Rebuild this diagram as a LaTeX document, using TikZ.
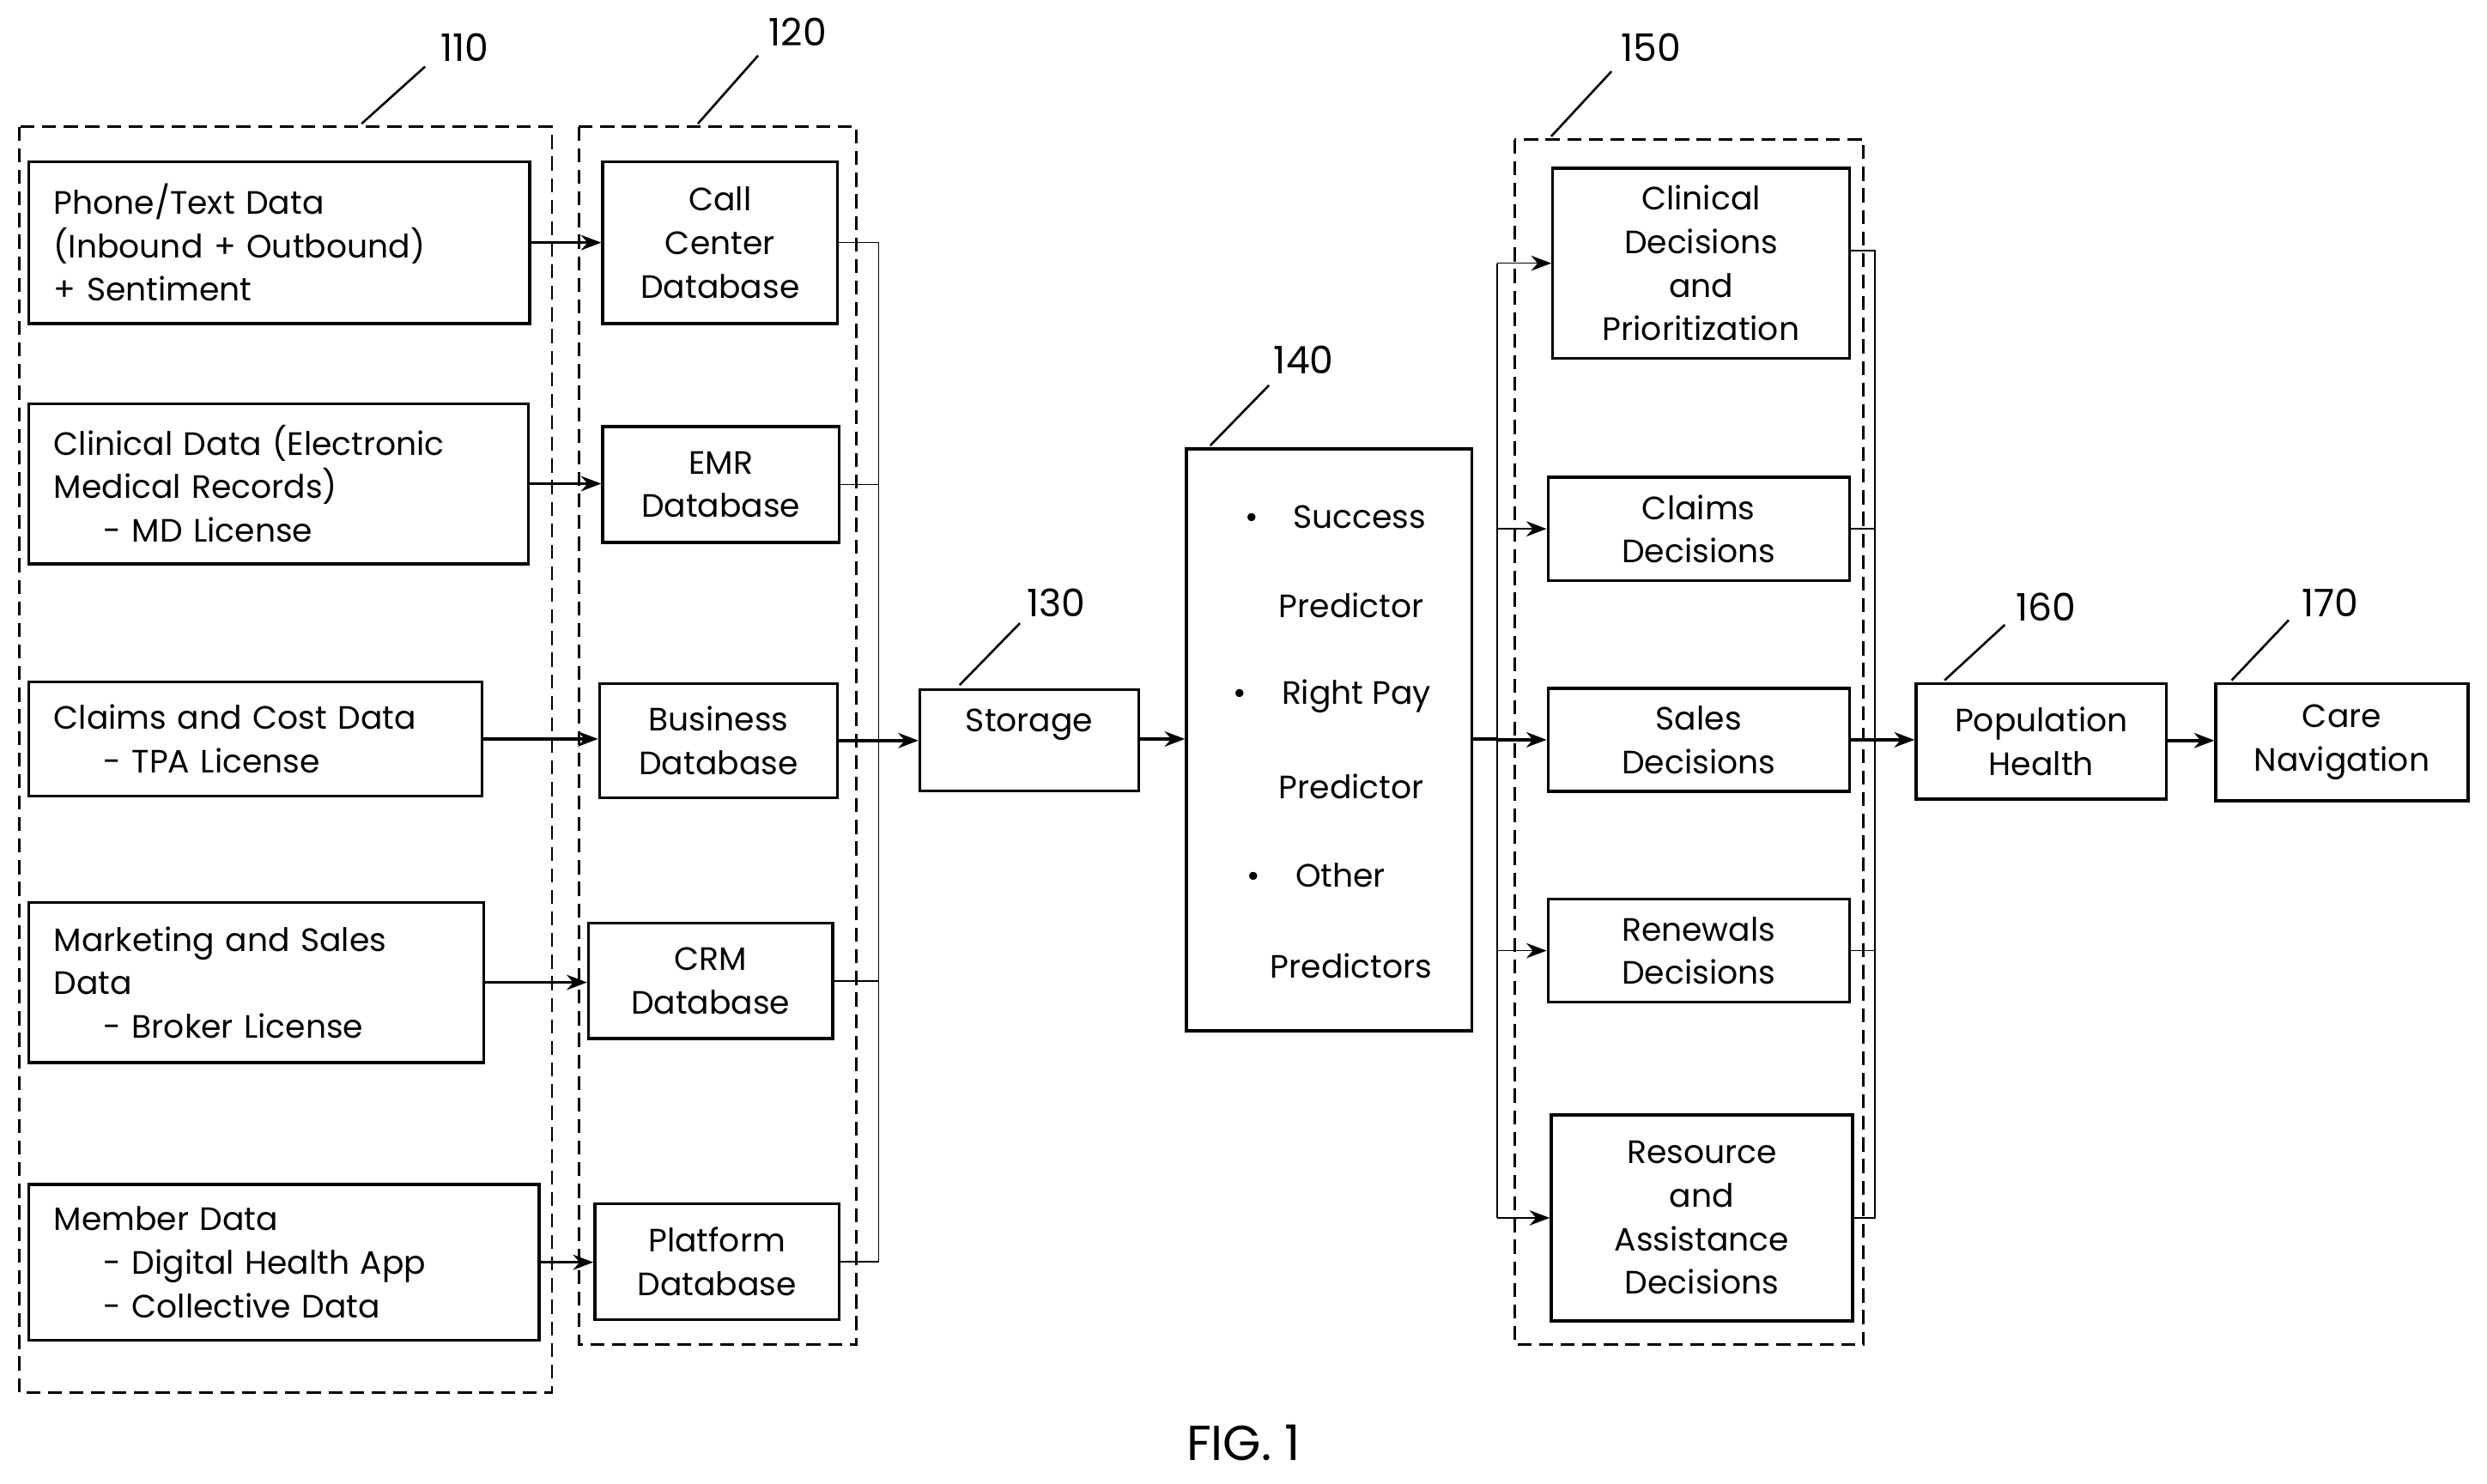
\documentclass[tikz,border=0pt]{standalone}
\usepackage{fontspec}
\setmainfont{Poppins}
\usetikzlibrary{arrows.meta}
\newcommand\U{0.025cm}
\begin{document}
\begin{tikzpicture}[x=0.025cm,y=-0.025cm,
 box/.style={draw,line width=1.3pt,inner sep=0pt,font=\fontsize{14.5}{19.5}\selectfont,align=center},
 lbox/.style={box,align=left},
 grp/.style={draw,line width=1.1pt,dash pattern=on 2.2mm off 1.2mm},
 num/.style={font=\fontsize{17}{20}\selectfont},
 lead/.style={line width=1pt},
 arr/.style={line width=1.3pt,-{Stealth[length=3.2mm,width=2.4mm]}},
 bus/.style={line width=0.6pt}]
\useasboundingbox (0,0) rectangle (1568,935.3);
% groups
\draw[grp] (12,80) rectangle (348,878);
\draw[grp] (365,80) rectangle (540,848);
\draw[grp] (955,88) rectangle (1175,848);
% labels
\node[num] (n110) at (293,30) {110}; \draw[lead] (228,78) -- (268,42);
\node[num] (n120) at (503,20) {120}; \draw[lead] (440,78) -- (478,35);
\node[num] (n130) at (666,380) {130}; \draw[lead] (605,432) -- (643,393);
\node[num] (n140) at (822,227) {140}; \draw[lead] (763,281) -- (800,243);
\node[num] (n150) at (1041,30) {150}; \draw[lead] (978,86) -- (1016,45);
\node[num] (n160) at (1290,383) {160}; \draw[lead] (1226,429) -- (1264,394);
\node[num] (n170) at (1469,380) {170}; \draw[lead] (1407,429) -- (1443,391);
% sources
\node[lbox,minimum width=316*\U,minimum height=102*\U,text width=284*\U] (A1) at (176,153) {Phone/Text Data\\(Inbound + Outbound)\\+ Sentiment};
\node[lbox,minimum width=315*\U,minimum height=101*\U,text width=283*\U] (A2) at (175.5,305) {Clinical Data (Electronic\\Medical Records)\\\hspace*{0.78cm}- MD License};
\node[lbox,minimum width=286*\U,minimum height=72*\U,text width=254*\U] (A3) at (161,466) {Claims and Cost Data\\\hspace*{0.78cm}- TPA License};
\node[lbox,minimum width=287*\U,minimum height=101*\U,text width=255*\U] (A4) at (161.5,619.5) {Marketing and Sales\\Data\\\hspace*{0.78cm}- Broker License};
\node[lbox,minimum width=322*\U,minimum height=98*\U,text width=290*\U] (A5) at (179,796) {Member Data\\\hspace*{0.78cm}- Digital Health App\\\hspace*{0.78cm}- Collective Data};
% databases
\node[box,minimum width=148*\U,minimum height=102*\U] (B1) at (454,153) {Call\\Center\\Database};
\node[box,minimum width=149*\U,minimum height=73*\U] (B2) at (454.5,305.5) {EMR\\Database};
\node[box,minimum width=150*\U,minimum height=72*\U] (B3) at (453,467) {Business\\Database};
\node[box,minimum width=154*\U,minimum height=73*\U] (B4) at (448,618.5) {CRM\\Database};
\node[box,minimum width=154*\U,minimum height=73*\U] (B5) at (452,795.5) {Platform\\Database};
\foreach \i in {1,...,5}{\draw[arr] (A\i.east) -- (A\i.east -| B\i.west);}
\coordinate (bx) at (554,0);
\draw[bus] (B1.east) -- (B1.east -| bx) -- (B5.east -| bx) -- (B5.east);
\foreach \i in {2,3,4}{\draw[bus] (B\i.east) -- (B\i.east -| bx);}
% storage and predictor
\node[box,minimum width=138*\U,minimum height=64*\U,anchor=north,text height=3.5mm] (S) at (649,434) {};
\node[font=\fontsize{14.5}{19.5}\selectfont] (St) at (649,457) {Storage};
\draw[arr] (B3.east) -- (B3.east -| S.west);
\node[box,minimum width=180*\U,minimum height=367*\U] (P) at (838,466.5) {};
\node[font=\fontsize{14.5}{19.5}\selectfont] at (842,326) {•\hspace{0.55cm}Success};
\node[font=\fontsize{14.5}{19.5}\selectfont] at (852,382) {Predictor};
\node[font=\fontsize{14.5}{19.5}\selectfont] at (840,439) {•\hspace{0.55cm}Right Pay};
\node[font=\fontsize{14.5}{19.5}\selectfont] at (852,496) {Predictor};
\node[font=\fontsize{14.5}{19.5}\selectfont] at (830,552) {•\hspace{0.55cm}Other};
\node[font=\fontsize{14.5}{19.5}\selectfont] at (852,609) {Predictors};
\draw[arr] (S.east |- 0,466) -- (P.west |- 0,466);
% decisions
\node[box,minimum width=187*\U,minimum height=120*\U] (C1) at (1072.5,166) {Clinical\\Decisions\\and\\Prioritization};
\node[box,minimum width=190*\U,minimum height=65*\U] (C2) at (1071,333.5) {Claims\\Decisions};
\node[box,minimum width=190*\U,minimum height=65*\U] (C3) at (1071,466.5) {Sales\\Decisions};
\node[box,minimum width=190*\U,minimum height=65*\U] (C4) at (1071,599.5) {Renewals\\Decisions};
\node[box,minimum width=190*\U,minimum height=130*\U] (C5) at (1073,768) {Resource\\and\\Assistance\\Decisions};
\coordinate (lx) at (944,0);
\coordinate (rx) at (1182,0);
\draw[line width=1.3pt] (P.east |- 0,466) -- (lx |- 0,466);
\draw[bus] (lx |- C1.west) -- (lx |- C5.west);
\foreach \i in {1,2,4,5}{\draw[bus,-{Stealth[length=3.2mm,width=2.4mm]}] (lx |- C\i.west) -- (C\i.west);}
\draw[arr] (lx |- C3.west) -- (C3.west);
\draw[bus] (C1.east |- 0,158) -- (rx |- 0,158) -- (rx |- C5.east) -- (C5.east);
\foreach \i in {2,4}{\draw[bus] (C\i.east) -- (rx |- C\i.east);}
% outputs
\node[box,minimum width=158*\U,minimum height=73*\U] (D) at (1287,467.5) {Population\\Health};
\node[box,minimum width=159*\U,minimum height=74*\U] (E) at (1476.5,468) {Care\\Navigation};
\draw[arr] (C3.east) -- (C3.east -| D.west);
\draw[arr] (D.east |- 0,467) -- (E.west |- 0,467);
\node[font=\fontsize{22}{26}\selectfont] (fig) at (784,910) {FIG. 1};
\end{tikzpicture}
\end{document}
